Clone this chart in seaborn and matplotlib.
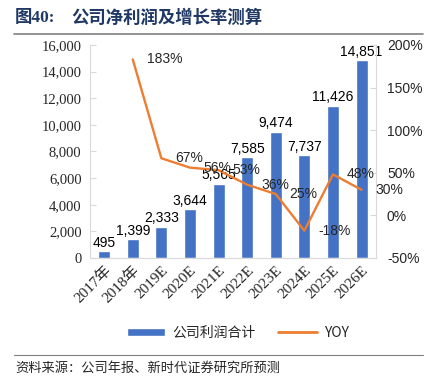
import numpy as np
import pandas as pd
import matplotlib.pyplot as plt
import seaborn as sns
from matplotlib.patches import Patch
from matplotlib.lines import Line2D
from matplotlib.ticker import FuncFormatter

years = ["2017年", "2018年", "2019E", "2020E", "2021E", "2022E", "2023E", "2024E", "2025E", "2026E"]
profit = [495, 1399, 2333, 3644, 5565, 7585, 9474, 7737, 11426, 14851]
yoy_years = years[1:]
yoy = [183, 67, 56, 53, 36, 25, -18, 48, 30]

BLUE = "#4472C4"
ORANGE = "#ED7D31"
GREY = "#D9D9D9"


def main():
    sns.set_style("white")
    plt.rcParams["font.family"] = ["Liberation Sans", "Noto Sans CJK SC"]

    df = pd.DataFrame({"year": years, "profit": profit})
    pos = {y: i for i, y in enumerate(years)}
    dfl = pd.DataFrame({"x": [pos[y] for y in yoy_years], "yoy": yoy})

    fig = plt.figure(figsize=(4.32, 3.81), dpi=100)
    ax = fig.add_axes([0.208, 0.323, 0.662, 0.559])

    sns.barplot(data=df, x="year", y="profit", color=BLUE, width=0.42,
                saturation=1, ax=ax)
    ax.set_ylim(0, 16000)
    ax.set_xlim(-0.5, len(years) - 0.5)
    ax.set_yticks(np.arange(0, 16001, 2000))
    ax.yaxis.set_major_formatter(FuncFormatter(lambda v, p: f"{int(v):,}"))
    ax.set_xlabel("")
    ax.set_ylabel("")
    for c in ax.containers:
        ax.bar_label(c, labels=[f"{v:,}" for v in profit], fontsize=10,
                     padding=1, color="#000000")

    serif = ["Liberation Serif", "Noto Sans CJK SC"]
    ax.set_xticks(range(len(years)))
    ax.set_xticklabels(years, rotation=45, ha="right", rotation_mode="anchor",
                       family=serif, fontsize=11)
    for t in ax.get_yticklabels():
        t.set_family(serif)
        t.set_fontsize(10.5)

    ax2 = ax.twinx()
    sns.lineplot(data=dfl, x="x", y="yoy", color=ORANGE, linewidth=1.7,
                 sort=False, ax=ax2)
    ax2.set_ylim(-50, 200)
    ax2.set_yticks(np.arange(-50, 201, 50))
    ax2.yaxis.set_major_formatter(FuncFormatter(lambda v, p: f"{int(v)}%"))
    ax2.set_ylabel("")
    ax2.set_xlabel("")
    for xv, yv in zip(dfl["x"], dfl["yoy"]):
        ax2.annotate(f"{yv}%", (xv, yv), xytext=(10, 0), textcoords="offset points",
                     ha="left", va="center", fontsize=10)
    for t in ax2.get_yticklabels():
        t.set_fontsize(10)

    for a in (ax, ax2):
        for s in a.spines.values():
            s.set_visible(False)
    ax.spines["left"].set_visible(True)
    ax.spines["left"].set_color(GREY)
    ax.spines["bottom"].set_visible(True)
    ax.spines["bottom"].set_color(GREY)
    ax2.spines["right"].set_visible(True)
    ax2.spines["right"].set_color(GREY)
    ax.tick_params(axis="y", direction="in", length=4, color=GREY, pad=6)
    ax.tick_params(axis="x", length=0, pad=4)
    ax2.tick_params(axis="y", direction="in", length=4, color=GREY, pad=8)

    handles = [Patch(facecolor=BLUE, label="公司利润合计"),
               Line2D([0], [0], color=ORANGE, lw=2, label="YOY")]
    fig.legend(handles=handles, loc="center", bbox_to_anchor=(0.55, 0.127),
               ncol=2, frameon=False, handlelength=2.8,
               handleheight=0.5, columnspacing=1.6, handletextpad=0.5,
               prop={"family": ["Noto Sans CJK SC"], "size": 10})

    fig.text(0.035, 0.952, "图40:", fontsize=12.5, fontweight="bold",
             color="#1F3864", family=["Liberation Serif", "Noto Sans CJK SC"],
             va="center")
    fig.text(0.165, 0.952, "公司净利润及增长率测算", fontsize=12.5, fontweight="bold",
             color="#1F3864", family=["Noto Sans CJK SC"], va="center")
    fig.add_artist(Line2D([0.032, 0.98], [0.912, 0.912], color="#808080", lw=1.2))
    fig.add_artist(Line2D([0.032, 0.98], [0.068, 0.068], color="#808080", lw=0.8))
    fig.text(0.035, 0.033, "资料来源：公司年报、新时代证券研究所预测", fontsize=9.5,
             family=["Noto Sans CJK SC"], va="center")

    fig.savefig("out.png", dpi=100)
    plt.close(fig)


if __name__ == "__main__":
    main()
